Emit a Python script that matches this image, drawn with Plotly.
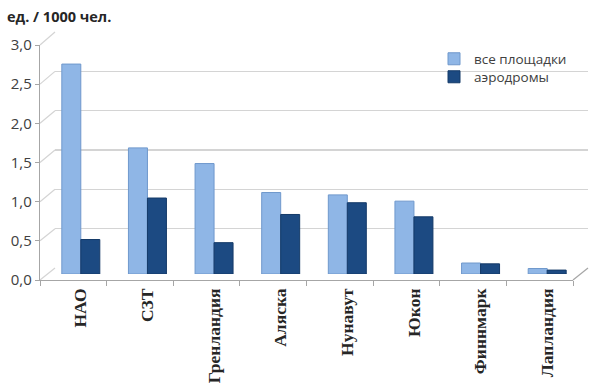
import plotly.graph_objects as go

categories = ["НАО", "СЗТ", "Гренландия", "Аляска", "Нунавут", "Юкон", "Финнмарк", "Лапландия"]
all_sites = [2.68, 1.61, 1.41, 1.04, 1.01, 0.93, 0.14, 0.07]
airfields = [0.44, 0.97, 0.40, 0.76, 0.91, 0.73, 0.13, 0.05]
series_names = ["все площадки", "аэродромы"]
y_ticks = [0.0, 0.5, 1.0, 1.5, 2.0, 2.5, 3.0]
y_title = "ед. / 1000 чел."

W, H = 591, 386
L, R, T, B = 40, 3, 32, 106
PW, PH = W - L - R, H - T - B
# pixel geometry (pseudo-3D)
front_right = 573
depth_dx, depth_dy = 15, 12
front_top = 45

fx1 = (front_right - L) / PW
fy1 = (H - B - front_top) / PH
bx0 = depth_dx / PW
by0 = depth_dy / PH
mx0, my0 = bx0 / 2, by0 / 2

light = "#8FB6E6"
dark = "#1C4A82"
grid = "#D4D4D4"
axis_c = "#A6A6A6"

fig = go.Figure()
fig.add_trace(go.Bar(x=categories, y=all_sites, name=series_names[0],
                     marker=dict(color=light, line=dict(color="#6F98CC", width=1)),
                     xaxis="x3", yaxis="y3", legend="legend"))
fig.add_trace(go.Bar(x=categories, y=airfields, name=series_names[1],
                     marker=dict(color=dark, line=dict(color="#143A68", width=1)),
                     xaxis="x3", yaxis="y3", legend="legend2"))
# helper traces so the front / back axes render
fig.add_trace(go.Scatter(x=categories, y=[None] * len(categories), mode="markers",
                         showlegend=False, hoverinfo="skip", xaxis="x", yaxis="y"))
fig.add_trace(go.Scatter(x=categories, y=[None] * len(categories), mode="markers",
                         showlegend=False, hoverinfo="skip", xaxis="x2", yaxis="y2"))

shapes = []
for v in y_ticks:
    yf = v / 3.0 * fy1
    yb = by0 + v / 3.0 * (1 - by0)
    shapes.append(dict(type="line", xref="paper", yref="paper", x0=0, x1=bx0, y0=yf, y1=yb,
                       line=dict(color=grid, width=1.2), layer="below"))
# right floor edge
shapes.append(dict(type="line", xref="paper", yref="paper", x0=fx1, x1=1, y0=0, y1=by0,
                   line=dict(color=axis_c, width=1.2)))

legend_font = dict(family="Open Sans", size=13.5, color="#404040")
fig.update_layout(
    width=W, height=H,
    margin=dict(l=L, r=R, t=T, b=B, autoexpand=False),
    plot_bgcolor="rgba(0,0,0,0)", paper_bgcolor="white",
    separators=", ",
    hovermode=False,
    barmode="group", bargap=0.43, bargroupgap=0.0,
    font=dict(family="Open Sans", color="#404040"),
    xaxis=dict(domain=[0, fx1], type="category", categoryarray=categories, range=[-0.5, 7.5],
               showline=True, linecolor=axis_c, linewidth=1.2, automargin=False,
               ticks="outside", tickson="boundaries", ticklen=5, tickcolor=axis_c,
               showticklabels=False, showgrid=False, anchor="y"),
    yaxis=dict(domain=[0, fy1], range=[0, 3], tickvals=y_ticks, tickformat=".1f", automargin=False,
               showline=True, linecolor=axis_c, linewidth=1.2,
               ticks="outside", ticklen=4, tickcolor=axis_c, showgrid=False, zeroline=False,
               tickfont=dict(family="Open Sans", size=15, color="#404040"), anchor="x"),
    xaxis2=dict(domain=[bx0, 1], type="category", categoryarray=categories, range=[-0.5, 7.5],
                visible=False, anchor="y2", automargin=False),
    yaxis2=dict(domain=[by0, 1], range=[0, 3], tickvals=y_ticks, showgrid=True, gridcolor=grid,
                gridwidth=1.2, showticklabels=False, zeroline=False, showline=False, anchor="x2",
                automargin=False),
    xaxis3=dict(domain=[mx0, fx1 + mx0], type="category", categoryarray=categories, range=[-0.5, 7.5],
                showline=False, showgrid=False, ticks="", tickangle=-90, automargin=False,
                ticklabelstandoff=10,
                tickfont=dict(family="Liberation Serif", size=17.5, color="#262626", weight="bold"),
                anchor="y3"),
    yaxis3=dict(domain=[my0, fy1 + my0], range=[0, 3], visible=False, anchor="x3", automargin=False),
    legend=dict(x=(434 - L) / PW, y=(H - B - 59) / PH, xanchor="left", yanchor="middle",
                bgcolor="rgba(0,0,0,0)", font=legend_font, itemwidth=30),
    legend2=dict(x=(434 - L) / PW, y=(H - B - 77) / PH, xanchor="left", yanchor="middle",
                 bgcolor="rgba(0,0,0,0)", font=legend_font, itemwidth=30),
    shapes=shapes,
    annotations=[dict(text="<b>" + y_title + "</b>", xref="paper", yref="paper",
                      x=(5 - L) / PW, y=1 + (T - 17) / PH, xanchor="left", yanchor="middle",
                      showarrow=False, font=dict(family="Open Sans", size=14.5, color="#262626"))],
)

fig.write_html("out.html", config={"displayModeBar": False, "staticPlot": True},
               post_script="document.body.style.margin='0';document.body.style.overflow='hidden';")
